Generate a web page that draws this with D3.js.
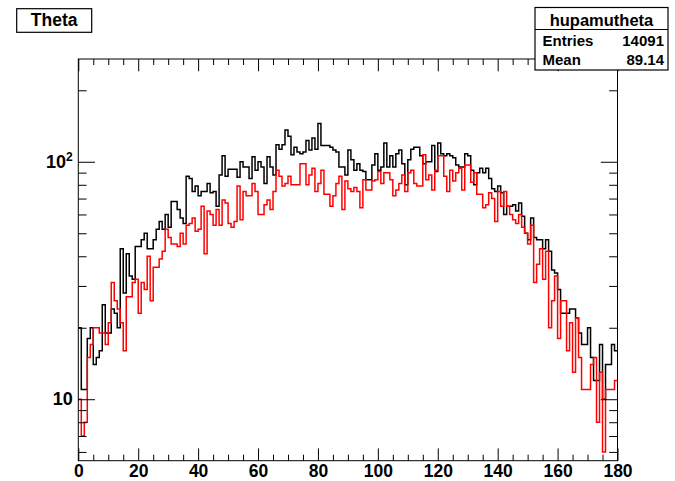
<!DOCTYPE html>
<html>
<head>
<meta charset="utf-8">
<script src="https://cdn.jsdelivr.net/npm/d3@7/dist/d3.min.js"></script>
<style>
  html, body { margin: 0; padding: 0; background: #fff; }
  svg text { font-family: "Liberation Sans", Arial, Helvetica, sans-serif; font-weight: bold; }
</style>
</head>
<body>
<svg id="chart" width="675" height="481"></svg>
<script>
// ---------------- data ----------------
const binEdges = [0, 180];          // x range, 180 bins of 1 degree
const xMajorTicks = [0, 20, 40, 60, 80, 100, 120, 140, 160, 180];
const xMinorTicks = d3.range(0, 181, 5).filter(v => v % 20 !== 0);
const yMajorTicks = [10, 100];
const yMinorTicks = [6, 7, 8, 9, 20, 30, 40, 50, 60, 70, 80, 90, 200];
const yDomain = [5.51, 270.9];

const blackCounts = [
  20,11,11,18,20,14,15,16,25,19,
  19,24,23,20,43,28,41,33,32,44,
  44,47,50,43,43,47,52,56,52,60,
  53,68,68,63,58,55,87,85,75,79,
  72,75,75,81,74,75,65,88,106,87,
  93,93,93,86,100,95,95,85,105,92,
  100,95,81,105,95,88,118,113,118,136,
  128,107,115,110,108,110,123,112,126,113,
  145,117,117,117,115,112,110,95,95,88,
  112,102,92,98,92,91,84,84,97,108,
  92,95,120,95,106,95,108,112,98,80,
  102,113,115,115,106,98,100,100,117,91,
  120,108,106,108,106,104,97,95,95,108,
  106,92,80,90,94,90,94,85,77,75,
  79,74,60,65,65,66,62,67,59,50,
  47,58,48,47,47,43,47,42,35,34,
  29,23,23,23,24,24,22,19,17,17,
  20,15,12,12,17,10,14,14,17,16
];

const redCounts = [
  10,7,8,15,17,20,20,19,19,17,
  21,31,26,24,21,16,27,27,31,32,
  23,31,29,40,26,36,36,39,42,52,
  48,45,45,44,50,45,54,55,58,51,
  52,65,41,62,60,54,63,54,69,67,
  55,53,56,79,57,75,72,72,81,75,
  60,60,66,69,63,75,92,87,79,81,
  87,80,80,80,98,98,80,88,94,75,
  81,92,73,73,65,72,81,87,63,83,
  77,75,78,75,64,84,76,76,83,84,
  91,81,90,90,84,72,76,81,88,75,
  90,92,81,79,79,107,84,88,76,92,
  106,106,87,75,92,83,90,94,76,97,
  97,82,90,73,73,64,66,74,70,56,
  75,65,75,65,60,57,55,60,53,50,
  45,54,31,37,43,32,42,20,26,33,
  18,26,26,16,21,13,22,15,11,11,
  11,14,15,8,13,6,11,11,11,12
];

const titleText = "Theta";
const statsName = "hupamutheta";
const statsLabels = ["Entries", "Mean"];
const statsValues = ["14091", "89.14"];

// ---------------- layout ----------------
const frame = { left: 78.3, right: 617.5, top: 59, bottom: 460.7 };
const svg = d3.select("#chart");

const x = d3.scaleLinear().domain(binEdges).range([frame.left, frame.right]);
const y = d3.scaleLog().domain(yDomain).range([frame.bottom, frame.top]);

// clip
svg.append("defs").append("clipPath").attr("id", "clip")
  .append("rect")
  .attr("x", frame.left).attr("y", frame.top)
  .attr("width", frame.right - frame.left).attr("height", frame.bottom - frame.top);

// histograms
function histPath(vals) {
  const pts = vals.map((v, i) => [i, v]);
  pts.push([vals.length, vals[vals.length - 1]]);
  return d3.line().x(d => x(d[0])).y(d => y(d[1])).curve(d3.curveStepAfter)(pts);
}
const g = svg.append("g").attr("clip-path", "url(#clip)");
g.append("path").attr("d", histPath(blackCounts))
  .attr("fill", "none").attr("stroke", "#000").attr("stroke-width", 1.5);
g.append("path").attr("d", histPath(redCounts))
  .attr("fill", "none").attr("stroke", "#ff0000").attr("stroke-width", 1.5);

// axes
function styleAxis(sel) {
  sel.select(".domain").remove();
  sel.selectAll(".tick line").attr("stroke", "#000").attr("stroke-width", 1);
}
// bottom
svg.append("g").attr("transform", `translate(0,${frame.bottom})`)
  .call(d3.axisBottom(x).tickValues(xMajorTicks).tickSize(-12.3).tickPadding(4)
        .tickFormat(d3.format("d")))
  .call(styleAxis)
  .call(s => s.selectAll("text").attr("font-size", 17.5).attr("fill", "#000"));
svg.append("g").attr("transform", `translate(0,${frame.bottom})`)
  .call(d3.axisBottom(x).tickValues(xMinorTicks).tickSize(-6).tickFormat(""))
  .call(styleAxis);
// top
svg.append("g").attr("transform", `translate(0,${frame.top})`)
  .call(d3.axisTop(x).tickValues(xMajorTicks).tickSize(-12.3).tickFormat(""))
  .call(styleAxis);
svg.append("g").attr("transform", `translate(0,${frame.top})`)
  .call(d3.axisTop(x).tickValues(xMinorTicks).tickSize(-6).tickFormat(""))
  .call(styleAxis);
// left
const leftAxis = svg.append("g").attr("transform", `translate(${frame.left},0)`)
  .call(d3.axisLeft(y).tickValues(yMajorTicks).tickSize(-16.7).tickPadding(5.6)
        .tickFormat(() => ""))
  .call(styleAxis);
leftAxis.selectAll(".tick text").each(function(d) {
  const t = d3.select(this).attr("font-size", 18).attr("fill", "#000");
  const exp = Math.round(Math.log10(d));
  t.text("10");
  if (exp !== 1) {
    t.append("tspan").attr("font-size", 12).attr("dy", "-0.55em").text(String(exp));
  }
});
svg.append("g").attr("transform", `translate(${frame.left},0)`)
  .call(d3.axisLeft(y).tickValues(yMinorTicks).tickSize(-8.3).tickFormat(""))
  .call(styleAxis);
// right
svg.append("g").attr("transform", `translate(${frame.right},0)`)
  .call(d3.axisRight(y).tickValues(yMajorTicks).tickSize(-16.7).tickFormat(""))
  .call(styleAxis);
svg.append("g").attr("transform", `translate(${frame.right},0)`)
  .call(d3.axisRight(y).tickValues(yMinorTicks).tickSize(-8.3).tickFormat(""))
  .call(styleAxis);

// frame
svg.append("rect")
  .attr("x", frame.left).attr("y", frame.top)
  .attr("width", frame.right - frame.left).attr("height", frame.bottom - frame.top)
  .attr("fill", "none").attr("stroke", "#000").attr("stroke-width", 1);

// title box
svg.append("rect").attr("x", 16.7).attr("y", 8.7).attr("width", 75).attr("height", 23.6)
  .attr("fill", "#fff").attr("stroke", "#000").attr("stroke-width", 1.2);
svg.append("text").attr("x", 54.2).attr("y", 26.3).attr("text-anchor", "middle")
  .attr("font-size", 17.5).attr("fill", "#000").text(titleText);

// stats box
const sb = { x: 535, y: 7.5, w: 133, h: 62.5 };
svg.append("rect").attr("x", sb.x).attr("y", sb.y).attr("width", sb.w).attr("height", sb.h)
  .attr("fill", "#fff").attr("stroke", "#000").attr("stroke-width", 1.2);
svg.append("line").attr("x1", sb.x).attr("x2", sb.x + sb.w).attr("y1", 29.5).attr("y2", 29.5)
  .attr("stroke", "#000").attr("stroke-width", 1.2);
svg.append("text").attr("x", sb.x + sb.w / 2).attr("y", 26).attr("text-anchor", "middle")
  .attr("font-size", 16.5).attr("fill", "#000").text(statsName);
statsLabels.forEach((lab, i) => {
  const yy = 45.5 + i * 19;
  svg.append("text").attr("x", 542.5).attr("y", yy).attr("font-size", 15)
    .attr("fill", "#000").text(lab);
  svg.append("text").attr("x", 664).attr("y", yy).attr("text-anchor", "end")
    .attr("font-size", 15).attr("fill", "#000").text(statsValues[i]);
});
</script>
</body>
</html>
